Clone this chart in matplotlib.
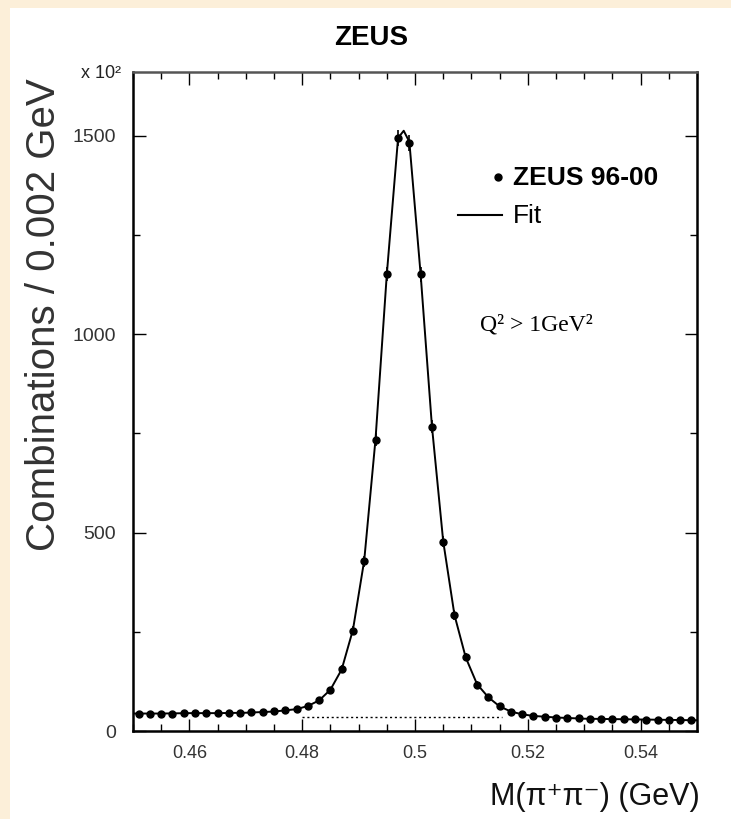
import matplotlib.pyplot as plt
from matplotlib.patches import Rectangle
from matplotlib.lines import Line2D
from matplotlib.ticker import MultipleLocator

plt.rcParams['font.family'] = ['Liberation Sans', 'DejaVu Sans']

# bin centres (GeV) and counts per 0.002 GeV bin
mass = [0.451, 0.453, 0.455, 0.457, 0.459, 0.461, 0.463, 0.465, 0.467, 0.469,
        0.471, 0.473, 0.475, 0.477, 0.479, 0.481, 0.483, 0.485, 0.487, 0.489,
        0.491, 0.493, 0.495, 0.497, 0.499, 0.501, 0.503, 0.505, 0.507, 0.509,
        0.511, 0.513, 0.515, 0.517, 0.519, 0.521, 0.523, 0.525, 0.527, 0.529,
        0.531, 0.533, 0.535, 0.537, 0.539, 0.541, 0.543, 0.545, 0.547, 0.549]
counts = [44, 44, 44, 44, 45, 45, 45, 45, 46, 46,
          47, 48, 50, 52, 56, 62, 78, 103, 156, 253,
          428, 734, 1152, 1493, 1482, 1150, 767, 477, 292, 186,
          117, 86, 62, 49, 42, 38, 36, 34, 33, 32,
          31, 30, 30, 29, 29, 28, 28, 28, 27, 27]
errors = [6, 6, 6, 6, 6, 6, 6, 6, 6, 6,
          6, 6, 6, 6, 7, 7, 8, 9, 10, 12,
          14, 16, 18, 20, 20, 18, 16, 14, 12, 10,
          9, 8, 7, 6, 6, 6, 6, 6, 6, 6,
          6, 6, 6, 6, 6, 6, 6, 6, 6, 6]

# fit curve sampled where it can be read
fit_mass = [0.450, 0.455, 0.460, 0.465, 0.470, 0.475, 0.479, 0.481, 0.483, 0.485,
            0.487, 0.489, 0.491, 0.493, 0.495, 0.497, 0.498, 0.499, 0.501, 0.503,
            0.505, 0.507, 0.509, 0.511, 0.513, 0.515, 0.517, 0.519, 0.521, 0.525,
            0.530, 0.535, 0.540, 0.545, 0.550]
fit_counts = [44, 44, 45, 45, 46, 49, 55, 63, 77, 104,
              155, 255, 430, 735, 1150, 1494, 1512, 1484, 1150, 768,
              478, 292, 185, 118, 85, 62, 49, 42, 38, 34,
              31, 30, 29, 28, 27]

bkg_mass = [0.480, 0.5155]
bkg_level = [36, 36]

W, H = 731, 819
fig = plt.figure(figsize=(W / 100, H / 100), dpi=100)
fig.patch.set_facecolor('#fcefd9')
fig.patches.append(Rectangle((10 / W, 0), 1, 1 - 8 / H, transform=fig.transFigure,
                             facecolor='white', edgecolor='none', zorder=-1))

def fx(px):
    return px / W

def fy(py):
    return 1 - py / H

ax = fig.add_axes([fx(133), fy(731), fx(697) - fx(133), fy(72) - fy(731)])
ax.set_facecolor('white')

ax.plot(fit_mass, fit_counts, color='black', lw=1.4, zorder=2)
ax.errorbar(mass, counts, yerr=errors, fmt='o', color='black', ms=5,
            elinewidth=1.2, capsize=0, zorder=3)
ax.plot(bkg_mass, bkg_level, color='black', lw=1.0, ls=(0, (1.5, 2)), zorder=1)

ax.set_xlim(0.45, 0.55)
ax.set_ylim(0, 1660)
ax.xaxis.set_major_locator(MultipleLocator(0.02))
ax.xaxis.set_minor_locator(MultipleLocator(0.005))
ax.yaxis.set_major_locator(MultipleLocator(500))
ax.yaxis.set_minor_locator(MultipleLocator(250))
ax.set_xticks([0.46, 0.48, 0.50, 0.52, 0.54])
ax.set_xticklabels(['0.46', '0.48', '0.5', '0.52', '0.54'])
ax.set_yticks([0, 500, 1000, 1500])
ax.set_yticklabels(['0', '500', '1000', '1500'])
ax.tick_params(which='both', direction='in', top=True, right=True, width=1.0)
ax.tick_params(which='major', length=9)
ax.tick_params(which='minor', length=5)
ax.tick_params(axis='x', labelsize=13, pad=10, colors='black', labelcolor='#333333')
ax.tick_params(axis='y', labelsize=14, pad=12, labelcolor='#333333')
for side, sp in ax.spines.items():
    sp.set_linewidth(1.8)
ax.spines['top'].set_color('#555555')

# titles and labels
fig.text(fx(371), fy(38), 'ZEUS', ha='center', va='center', fontsize=20,
         fontweight='bold')
fig.text(fx(44), fy(315), 'Combinations / 0.002 GeV', rotation=90,
         ha='center', va='center', fontsize=29, color='#333333')
fig.text(fx(101), fy(73), 'x 10²', ha='center', va='center', fontsize=13,
         color='#222222')
fig.text(fx(700), fy(797), 'M(π⁺π⁻) (GeV)', ha='right', va='center',
         fontsize=22, color='#111111')

# legend
fig.lines.append(Line2D([fx(498)], [fy(177)], marker='o', ms=5, color='black',
                        transform=fig.transFigure))
fig.text(fx(513), fy(178), 'ZEUS 96-00', ha='left', va='center', fontsize=19,
         fontweight='bold')
fig.lines.append(Line2D([fx(458), fx(502)], [fy(215), fy(215)], color='black',
                        lw=1.5, transform=fig.transFigure))
fig.text(fx(513), fy(216), 'Fit', ha='left', va='center', fontsize=19)
fig.text(fx(480), fy(325), 'Q² > 1GeV²', ha='left', va='center', fontsize=17,
         family=['Liberation Serif', 'DejaVu Serif'])

fig.savefig('out.png', dpi=100, facecolor=fig.get_facecolor())
